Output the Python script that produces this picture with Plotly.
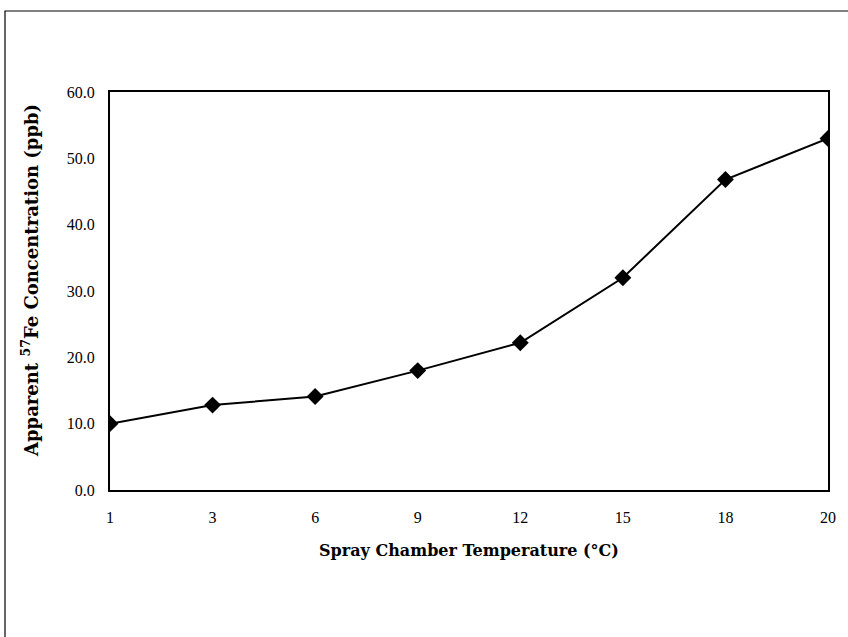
import plotly.graph_objects as go

temps = ["1", "3", "6", "9", "12", "15", "18", "20"]
conc = [10.0, 12.8, 14.1, 18.0, 22.2, 32.0, 46.8, 53.0]
y_ticks = [0, 10, 20, 30, 40, 50, 60]
y_tick_text = ["0.0", "10.0", "20.0", "30.0", "40.0", "50.0", "60.0"]

W, H = 848, 637
L, R, T, B = 110, 20, 92, 147
pw = W - L - R
ph = H - T - B

fig = go.Figure()
fig.add_trace(go.Scatter(
    x=temps, y=conc, mode="lines+markers",
    line=dict(color="black", width=2),
    marker=dict(symbol="diamond", size=13, color="black"),
    showlegend=False,
))

tick_font = dict(family="Liberation Serif, DejaVu Serif, serif", size=16, color="black")
title_font = dict(family="DejaVu Serif, Liberation Serif, serif", size=16, color="black")

fig.update_layout(
    width=W, height=H,
    margin=dict(l=L, r=R, t=T, b=B),
    paper_bgcolor="white", plot_bgcolor="white",
    font=tick_font,
    xaxis=dict(
        type="category", range=[0, 7],
        showline=True, mirror=True, linecolor="black", linewidth=2,
        showgrid=False, zeroline=False, ticks="",
        tickfont=tick_font,
        ticklabelstandoff=12,
        title=dict(text="<b>Spray Chamber Temperature (°C)</b>", standoff=20,
                   font=title_font),
    ),
    yaxis=dict(
        range=[0, 60], tickvals=y_ticks, ticktext=y_tick_text,
        showline=True, mirror=True, linecolor="black", linewidth=2,
        showgrid=False, zeroline=False, ticks="",
        tickfont=tick_font,
        ticklabelstandoff=10,
    ),
)

# y-axis title as a rotated annotation
fig.add_annotation(
    xref="paper", yref="paper",
    x=(30 - L) / pw, y=(T + ph - 281) / ph,
    xanchor="center", yanchor="middle",
    text="<b>Apparent <sup>57</sup>Fe Concentration (ppb)</b>",
    textangle=-90, showarrow=False,
    font=dict(family="DejaVu Serif, Liberation Serif, serif", size=18, color="black"),
)

# outer frame (extends past right/bottom edges as in the reference)
fig.add_shape(
    type="rect", xref="paper", yref="paper",
    x0=(5 - L) / pw, x1=(W + 5 - L) / pw,
    y0=(T + ph - (H + 5)) / ph, y1=(T + ph - 11) / ph,
    line=dict(color="black", width=1.2), layer="below",
)

fig.write_html("out.html", config={"displayModeBar": False},
               post_script="document.body.style.margin='0';")
